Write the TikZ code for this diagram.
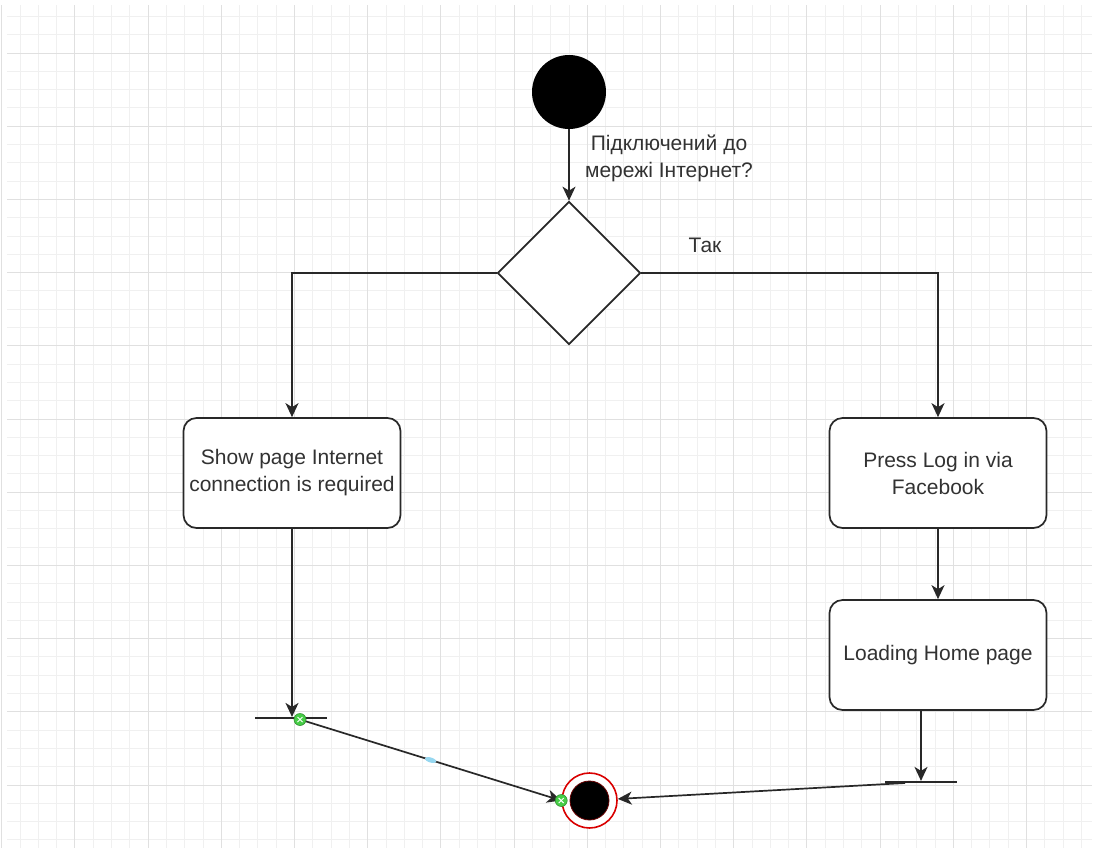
\documentclass[tikz,border=0pt]{standalone}
\usepackage{fontspec}
\setmainfont{Liberation Sans}
\usetikzlibrary{arrows.meta,shapes.geometric,calc}
\definecolor{gridminor}{RGB}{240,240,240}
\definecolor{gridmajor}{RGB}{224,224,224}
\definecolor{ink}{RGB}{40,40,40}
\definecolor{txt}{RGB}{50,50,50}
\definecolor{selgreen}{RGB}{70,205,70}
\definecolor{selblue}{RGB}{150,215,240}
\begin{document}
\begin{tikzpicture}[x=1pt,y=-1pt,
  every node/.style={font=\fontsize{21}{27}\selectfont, text=txt},
  conn/.style={draw=ink, line width=1.7pt, -{Stealth[length=14pt,width=13pt,inset=4pt]}},
  actbox/.style={rectangle, rounded corners=13pt, draw=ink, line width=1.7pt, fill=white,
    minimum width=217pt, minimum height=110pt, align=center, inner sep=0pt},
  barnode/.style={rectangle, fill=ink, minimum width=72pt, minimum height=1.8pt, inner sep=0pt},
  handle/.style={circle, fill=selgreen, draw=selgreen!70!black, line width=0.6pt, minimum size=12pt, inner sep=0pt}
]
\useasboundingbox (0,0) rectangle (1094,852);
\fill[white] (0,0) rectangle (1094,852);
% grid
\foreach \i in {0,...,59} {
  \pgfmathsetmacro{\xx}{1.6+18.3*\i}
  \draw[gridminor, line width=0.8pt] (\xx,5) -- (\xx,848);
}
\foreach \i in {1,...,46} {
  \pgfmathsetmacro{\yy}{-2+18.3*\i}
  \draw[gridminor, line width=0.8pt] (7,\yy) -- (1092,\yy);
}
\foreach \i in {0,...,14} {
  \pgfmathsetmacro{\xx}{1.6+73.2*\i}
  \draw[gridmajor, line width=0.9pt] (\xx,5) -- (\xx,848);
}
\foreach \i in {0,...,10} {
  \pgfmathsetmacro{\yy}{53+73.2*\i}
  \draw[gridmajor, line width=0.9pt] (7,\yy) -- (1092,\yy);
}

% nodes
\node[circle, fill=black, minimum size=74pt, inner sep=0pt] (start) at (569,92) {};
\node[diamond, draw=ink, line width=1.7pt, fill=white, minimum width=143pt, minimum height=143pt, inner sep=0pt] (dec) at (569,273) {};
\node[align=center] (q) at (669,158) {Підключений до\\мережі Інтернет?};
\node (yes) at (705,245) {Так};

\node[actbox] (show) at (292,473) {Show page Internet\\connection is required};
\node[actbox] (press) at (938,473) {Press Log in via\\Facebook};
\node[actbox] (load) at (938,655) {Loading Home page};

\node[barnode] (lbar) at (291,718) {};
\node[barnode] (rbar) at (921,782) {};

\node[circle, draw=red!85!black, line width=1.6pt, fill=white, minimum size=55pt, inner sep=0pt] (fin) at (589.5,800.5) {};
\node[circle, fill=black, draw=red!40!black, line width=0.8pt, minimum size=39pt, inner sep=0pt] (finin) at (fin) {};

\coordinate (lstart) at (300,719.5);
\coordinate (rstart) at (905,783);

% connectors
\draw[conn] (start) -- (dec.north);
\draw[conn] (dec.west) -- (dec.west -| show.north) -- (show.north);
\draw[conn] (dec.east) -- (dec.east -| press.north) -- (press.north);
\draw[conn] (press) -- (load);
\draw[conn] (show.south) -- (show.south |- lbar.north);
\draw[conn] (load.south -| rbar) -- (rbar.north);
\draw[conn] (lstart) -- (fin.west);
\draw[conn] (rstart) -- (fin);

% selection handles
\node[ellipse, fill=selblue, minimum width=12pt, minimum height=5pt, inner sep=0pt, rotate=-17] (mid) at ($(lstart)!0.5!(fin.west)$) {};
\node[handle] (h1) at (lstart) {};
\node[handle] (h2) at (fin.west) {};
\foreach \h in {h1,h2} {
  \draw[white, line width=1pt] ([shift={(-2.5,-2.5)}]\h.center) -- ([shift={(2.5,2.5)}]\h.center);
  \draw[white, line width=1pt] ([shift={(-2.5,2.5)}]\h.center) -- ([shift={(2.5,-2.5)}]\h.center);
}
\end{tikzpicture}
\end{document}
